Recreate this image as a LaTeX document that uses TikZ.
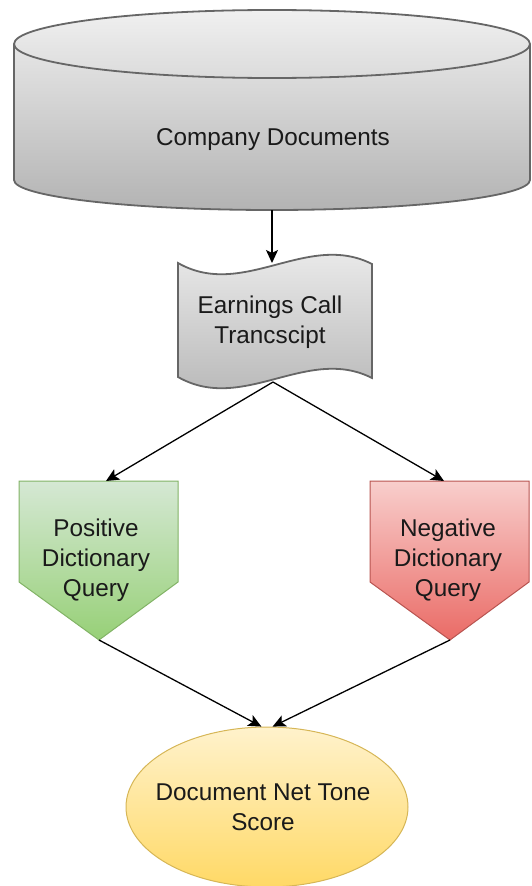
\documentclass[tikz,border=0pt]{standalone}
\usepackage{fontspec}
\setmainfont{Liberation Sans}
\usetikzlibrary{arrows.meta,shapes.geometric}
\definecolor{cylA}{HTML}{F0F0F0}
\definecolor{cylB}{HTML}{B3B3B3}
\definecolor{cylD}{HTML}{666666}
\definecolor{posA}{HTML}{D5E8D4}
\definecolor{posB}{HTML}{97D077}
\definecolor{posD}{HTML}{82B366}
\definecolor{negA}{HTML}{F8CECC}
\definecolor{negB}{HTML}{EA6B66}
\definecolor{negD}{HTML}{B85450}
\definecolor{ellA}{HTML}{FFF2CC}
\definecolor{ellB}{HTML}{FFD966}
\definecolor{ellD}{HTML}{D6B656}
\definecolor{txt}{HTML}{1A1A1A}
\begin{document}
\begin{tikzpicture}[x=1pt,y=-1pt,
  lbl/.style={align=center,text=txt,font=\fontsize{24.3}{30}\selectfont,inner sep=0pt},
  grayshape/.style={draw=cylD,line width=1.8pt,top color=cylA,bottom color=cylB},
  arr/.style={draw=black,line width=1.3pt,-{Stealth[length=13pt,width=12pt,inset=3pt]}}]
\useasboundingbox (0,0) rectangle (532,886);
% cylinder
\path[grayshape] (14,44) -- (14,180)
  arc[start angle=180,end angle=360,x radius=258pt,y radius=30pt]
  -- (530,44)
  arc[start angle=0,end angle=180,x radius=258pt,y radius=34pt] -- cycle;
\draw[draw=cylD,line width=1.8pt] (14,44)
  arc[start angle=180,end angle=360,x radius=258pt,y radius=34pt];
\node[lbl] (cyl) at (273,140) {Company Documents};
\coordinate (cylbot) at (272,210);
% document (tape)
\path[grayshape] (178,263) .. controls (243,300) and (307,231) .. (372,264)
  -- (372,378) .. controls (307,345) and (243,414) .. (178,377) -- cycle;
\node[lbl] (doc) at (270,322) {Earnings Call\\Trancscipt};
\coordinate (doctop) at (272,263);
\coordinate (docbot) at (273,382);
% positive
\path[draw=posD,line width=1pt,top color=posA,bottom color=posB]
  (19,481) -- (178,481) -- (178,582) -- (99,640) -- (19,582) -- cycle;
\node[lbl] (pos) at (96,560) {Positive\\Dictionary\\Query};
\coordinate (postop) at (106,481);
\coordinate (postip) at (99,640);
% negative
\path[draw=negD,line width=1pt,top color=negA,bottom color=negB]
  (370,481) -- (529,481) -- (529,582) -- (450,640) -- (370,582) -- cycle;
\node[lbl] (neg) at (448,560) {Negative\\Dictionary\\Query};
\coordinate (negtop) at (444,481);
\coordinate (negtip) at (450,640);
% score
\node[ellipse,draw=ellD,line width=1pt,top color=ellA,bottom color=ellB,
  minimum width=282pt,minimum height=160pt,inner sep=0pt] (score) at (267,807) {};
\node[lbl] (scoretxt) at (263,807) {Document Net Tone\\Score};
% connectors
\draw[arr] (cylbot) -- (doctop);
\draw[arr] (docbot) -- (postop);
\draw[arr] (docbot) -- (negtop);
\draw[arr] (postip) -- (score.94);
\draw[arr] (negtip) -- (score.86);
\end{tikzpicture}
\end{document}
